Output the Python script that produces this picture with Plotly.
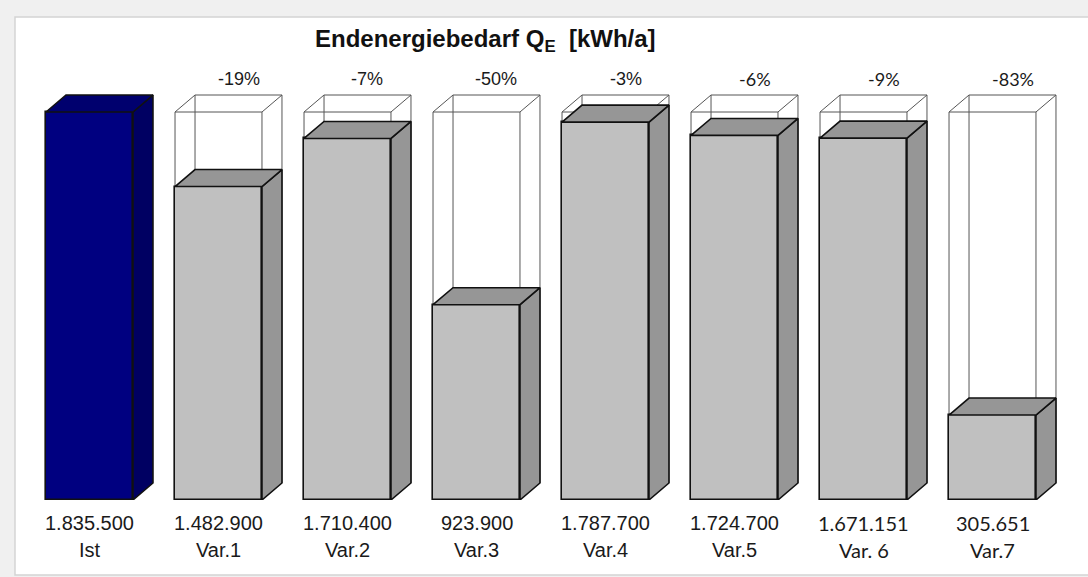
import plotly.graph_objects as go

# ---------------- data ----------------
categories = ["Ist", "Var.1", "Var.2", "Var.3", "Var.4", "Var.5", "Var. 6", "Var.7"]
value_labels = ["1.835.500", "1.482.900", "1.710.400", "923.900", "1.787.700",
                "1.724.700", "1.671.151", "305.651"]
# bar heights as drawn in the picture (kWh/a)
bar_heights = [1835500, 1482900, 1710400, 923900, 1787700, 1724700, 1712000, 402000]
percent_labels = ["", "-19%", "-7%", "-50%", "-3%", "-6%", "-9%", "-83%"]

# ---------------- style constants ----------------
DX = 0.155          # depth offset (x units)
DY = 80400          # depth offset (y units)
W = 0.674           # bar width
YMAX = 2081500
calibri_like = {5, 6, 7}          # labels set in a different font in the original
ARIAL = "Liberation Sans, Arial, sans-serif"
ALT = "Lato, Noto Sans, sans-serif"

front_cols = ["#000080"] + ["#c0c0c0"] * 7
top_cols = ["#00006e"] + ["#969696"] * 7
side_cols = ["#000062"] + ["#969696"] * 7

fig = go.Figure()

n = len(categories)
xs = list(range(n))
ref_h = bar_heights[0]

# front faces
fig.add_trace(go.Bar(
    x=xs, y=bar_heights, width=W,
    marker=dict(color=front_cols, line=dict(color="#111111", width=1.6)),
    hoverinfo="skip", showlegend=False,
))

# side and top faces
for i, h in enumerate(bar_heights):
    L, R = i - W / 2, i + W / 2
    fig.add_trace(go.Scatter(
        x=[R, R + DX, R + DX, R, R], y=[0, DY, h + DY, h, 0],
        mode="lines", fill="toself", fillcolor=side_cols[i],
        line=dict(color="#111111", width=1.6), hoverinfo="skip", showlegend=False))
    fig.add_trace(go.Scatter(
        x=[L, L + DX, R + DX, R, L], y=[h, h + DY, h + DY, h, h],
        mode="lines", fill="toself", fillcolor=top_cols[i],
        line=dict(color="#111111", width=1.6), hoverinfo="skip", showlegend=False))

shapes = [dict(type="rect", xref="paper", yref="paper",
               x0=-0.0097, x1=1.04, y0=-0.1705, y1=1.0977,
               fillcolor="white", line=dict(color="#d4d4d4", width=1.5), layer="below")]

# wireframe reference boxes (Ist level) behind the variants
for i in range(1, n):
    L, R = i - W / 2, i + W / 2
    H = ref_h
    path = (f"M {L},0 L {L},{H} L {R},{H} L {R},0 "
            f"M {L},{H} L {L+DX},{H+DY} L {R+DX},{H+DY} L {R},{H} "
            f"M {R+DX},{H+DY} L {R+DX},{DY} "
            f"M {L+DX},{H+DY} L {L+DX},{DY}")
    shapes.append(dict(type="path", xref="x", yref="y", path=path,
                       line=dict(color="#555555", width=1), layer="below"))

annotations = []
for i in range(n):
    fnt = ALT if i in (6, 7) else ARIAL
    annotations.append(dict(x=i, y=0, xref="x", yref="y", text=value_labels[i],
                            showarrow=False, yanchor="middle", yshift=-23,
                            font=dict(family=fnt, size=20, color="#1a1a1a")))
    annotations.append(dict(x=i, y=0, xref="x", yref="y", text=categories[i],
                            showarrow=False, yanchor="middle", yshift=-50,
                            font=dict(family=fnt, size=20, color="#1a1a1a")))
    if percent_labels[i]:
        pf = ALT if i in calibri_like else ARIAL
        annotations.append(dict(x=i + DX, y=ref_h + DY, xref="x", yref="y",
                                text=percent_labels[i], showarrow=False,
                                yanchor="middle", yshift=16,
                                font=dict(family=pf, size=18, color="#1a1a1a")))

annotations.append(dict(x=0.4467, y=1.045, xref="paper", yref="paper",
                        text="<b>Endenergiebedarf Q<sub>E</sub>\u00a0\u00a0[kWh/a]</b>",
                        showarrow=False, xanchor="center", yanchor="middle",
                        font=dict(family=ARIAL, size=24, color="#111111")))

fig.update_layout(
    width=1088, height=577,
    margin=dict(l=25, r=31, t=60, b=77),
    paper_bgcolor="#f0f0f0", plot_bgcolor="white",
    shapes=shapes, annotations=annotations,
    xaxis=dict(range=[-0.5, 7.5], visible=False, fixedrange=True),
    yaxis=dict(range=[0, YMAX], visible=False, fixedrange=True),
    showlegend=False, bargap=0,
)

fig.write_html("out.html")
